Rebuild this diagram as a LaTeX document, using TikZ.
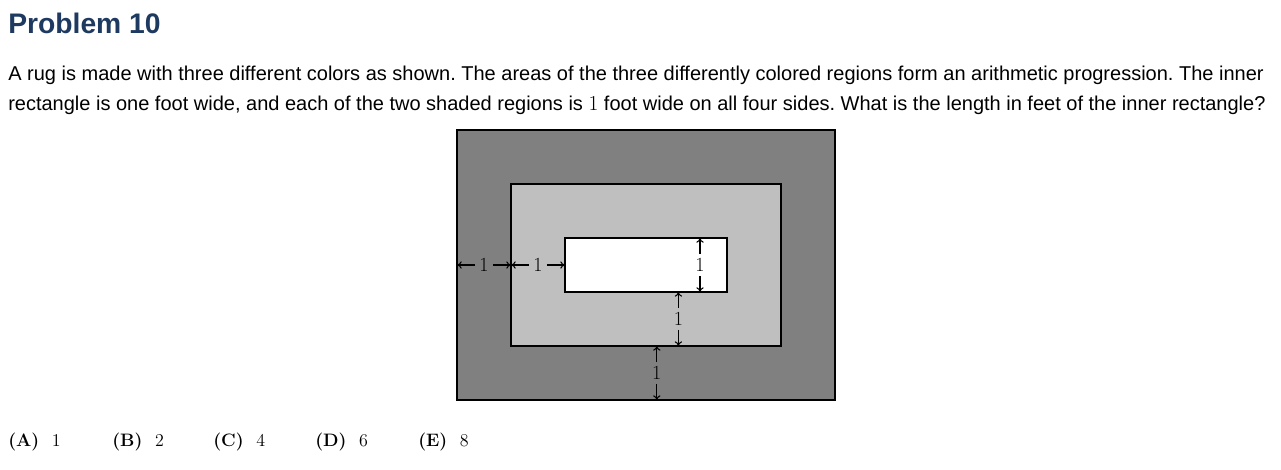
\documentclass[tikz,border=0pt]{standalone}
\usepackage[no-math]{fontspec}
\setmainfont{Liberation Sans}
\newfontfamily\lmfont{Latin Modern Roman}
\usepackage{amsmath}
\usepackage{xcolor}
\usetikzlibrary{arrows.meta, positioning, calc}
\definecolor{headblue}{RGB}{31,58,96}
\definecolor{rugdark}{gray}{0.5}
\definecolor{rugmid}{gray}{0.75}
\frenchspacing

\begin{document}
\begin{tikzpicture}[x=0.75pt, y=-0.75pt,
    textline/.style={anchor=base west, inner sep=0pt, font=\fontsize{15}{18}\selectfont},
    dimlbl/.style={inner sep=3pt, font=\lmfont\fontsize{15}{17}\selectfont},
    dimarrow/.style={-{To[length=3.5pt, width=5.5pt]}, line width=0.8pt},
    answer/.style={anchor=base west, inner sep=0pt, font=\lmfont\fontsize{13.5}{15}\selectfont}]
\useasboundingbox (0,0) rectangle (1281,469);
% heading and question
\node[anchor=base west, inner sep=0pt, text=headblue, font=\fontsize{21.2}{24}\selectfont\bfseries] (title) at (8,33) {Problem 10};
\node[textline] (line1) at (8,80) {A rug is made with three different colors as shown. The areas of the three differently colored regions form an arithmetic progression. The inner};
\node[textline] (line2) at (8,110) {rectangle is one foot wide, and each of the two shaded regions is {\lmfont\fontsize{16}{18}\selectfont 1} foot wide on all four sides. What is the length in feet of the inner rectangle?};
% rug, one unit is one foot
\begin{scope}[shift={(342.75pt,-300pt)}, x=40.5pt, y=40.5pt]
\draw[line width=1pt, fill=rugdark] (0,0) rectangle (7,5);
\draw[line width=1pt, fill=rugmid] (1,1) rectangle (6,4);
\draw[line width=1pt, fill=white] (2,2) rectangle (5,3);
% widths of the shaded bands
\node[dimlbl] (h1) at (0.5,2.5) {1};
\node[dimlbl] (h2) at (1.5,2.5) {1};
\coordinate (hw0) at (0,2.5);
\coordinate (hw1) at (1,2.5);
\coordinate (hw2) at (2,2.5);
\draw[dimarrow] (h1) -- (hw0);
\draw[dimarrow] (h1) -- (hw1);
\draw[dimarrow] (h2) -- (hw1);
\draw[dimarrow] (h2) -- (hw2);
% heights
\node[dimlbl] (v1) at (4.5,2.5) {1};
\node[dimlbl] (v2) at (4.1,1.5) {1};
\node[dimlbl] (v3) at (3.7,0.5) {1};
\coordinate (v1t) at (4.5,3);
\coordinate (v1b) at (4.5,2);
\coordinate (v2t) at (4.1,2);
\coordinate (v2b) at (4.1,1);
\coordinate (v3t) at (3.7,1);
\coordinate (v3b) at (3.7,0);
\draw[dimarrow] (v1) -- (v1t);
\draw[dimarrow] (v1) -- (v1b);
\draw[dimarrow] (v2) -- (v2t);
\draw[dimarrow] (v2) -- (v2b);
\draw[dimarrow] (v3) -- (v3t);
\draw[dimarrow] (v3) -- (v3b);
\end{scope}
% answer choices
\foreach \opt/\val/\xx in {A/1/8, B/2/112, C/4/213, D/6/315, E/8/418} {
    \node[answer] (choice\opt) at (\xx,446) {\textbf{(\opt)}\hspace{0.7em}\val};
}
\end{tikzpicture}
\end{document}
